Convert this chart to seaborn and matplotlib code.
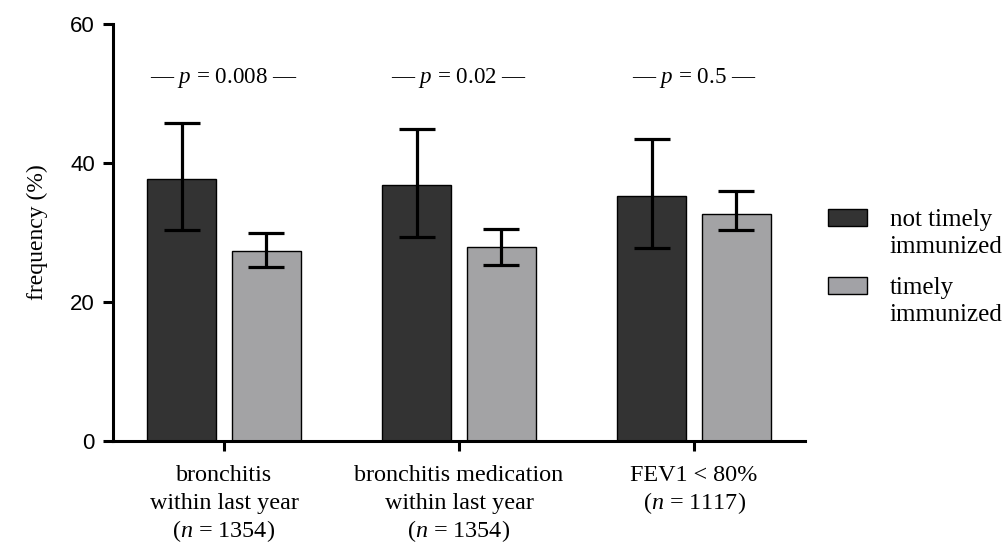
import matplotlib
matplotlib.use("Agg")
import matplotlib.pyplot as plt
import seaborn as sns
import pandas as pd
from matplotlib.patches import Patch

categories = ["bronchitis\nwithin last year\n($n$ = 1354)",
              "bronchitis medication\nwithin last year\n($n$ = 1354)",
              "FEV1 < 80%\n($n$ = 1117)"]
groups = ["not timely\nimmunized", "timely\nimmunized"]

not_timely = [37.7, 36.8, 35.3]
not_timely_lo = [30.4, 29.4, 27.8]
not_timely_hi = [45.8, 44.9, 43.5]

timely = [27.4, 27.9, 32.7]
timely_lo = [25.0, 25.3, 30.4]
timely_hi = [30.0, 30.5, 35.9]

p_values = ["0.008", "0.02", "0.5"]
y_ticks = [0, 20, 40, 60]

dark = "#333333"
light = "#a2a2a6"

sns.set_style("ticks")
plt.rcParams["font.family"] = ["Liberation Serif", "DejaVu Serif"]
plt.rcParams["mathtext.fontset"] = "custom"
plt.rcParams["mathtext.rm"] = "Liberation Serif"
plt.rcParams["mathtext.it"] = "Liberation Serif:italic"
for k in ["text.color", "axes.labelcolor", "xtick.color", "ytick.color", "axes.edgecolor"]:
    plt.rcParams[k] = "black"

df = pd.DataFrame({
    "category": categories * 2,
    "group": [groups[0]] * 3 + [groups[1]] * 3,
    "freq": not_timely + timely,
})

fig = plt.figure(figsize=(10.03, 5.51), dpi=100)
ax = fig.add_axes([113 / 1003, 1 - 441 / 551, (805 - 113) / 1003, (441 - 24) / 551])

sns.barplot(data=df, x="category", y="freq", hue="group", order=categories,
            hue_order=groups, palette=[dark, light], width=0.716, gap=0.18,
            errorbar=None, edgecolor="black", linewidth=1, legend=False, ax=ax)

# asymmetric error bars on top of the bars
err = [(not_timely, not_timely_lo, not_timely_hi), (timely, timely_lo, timely_hi)]
for cont, (vals, lo, hi) in zip(ax.containers, err):
    xs = [p.get_x() + p.get_width() / 2 for p in cont]
    yerr = [[v - l for v, l in zip(vals, lo)], [h - v for v, h in zip(vals, hi)]]
    ax.errorbar(xs, vals, yerr=yerr, fmt="none", ecolor="black",
                elinewidth=2.3, capsize=13, capthick=2.3, zorder=5)

for i, p in enumerate(p_values):
    ax.text(i, 52.2, "\u2014 $p$ = " + p + " \u2014", ha="center", va="center",
            fontsize=16.6)

ax.set_ylim(0, 60)
ax.set_xlim(-0.472, 2.472)
ax.set_yticks(y_ticks)
ax.set_yticklabels([str(t) for t in y_ticks], fontfamily="Liberation Sans", fontsize=16)
ax.set_xticks(range(len(categories)))
ax.set_xticklabels([""] * len(categories))
ax.set_xlabel("")
ax.set_ylabel("frequency (%)", fontsize=17, labelpad=16)

# category labels, one line at a time so the math line keeps even spacing
for i, cat in enumerate(categories):
    for j, line in enumerate(cat.split("\n")):
        ax.annotate(line, xy=(i, 0), xycoords=("data", "axes fraction"),
                    xytext=(0, -29 - 20.2 * j), textcoords="offset points",
                    ha="center", va="baseline", fontsize=17.4)

sns.despine(ax=ax)
for s in ["left", "bottom"]:
    ax.spines[s].set_linewidth(2.2)
ax.tick_params(axis="both", width=2.2, length=7, color="black")
ax.tick_params(axis="y", pad=6)

handles = [Patch(facecolor=dark, edgecolor="black", linewidth=1, label=groups[0]),
           Patch(facecolor=light, edgecolor="black", linewidth=1, label=groups[1])]
leg = fig.legend(handles=handles, loc="center left", bbox_to_anchor=(828 / 1003, 0.515),
                 frameon=False, fontsize=18, borderaxespad=0, borderpad=0,
                 handlelength=1.55, handleheight=0.68, handletextpad=0.92,
                 labelspacing=0.77)
for t in leg.get_texts():
    t.set_linespacing(1.3)
# put each swatch next to the first line of its label
for h in leg.legend_handles:
    h.set_y(h.get_y() + 11)

fig.savefig("out.png", dpi=100)
